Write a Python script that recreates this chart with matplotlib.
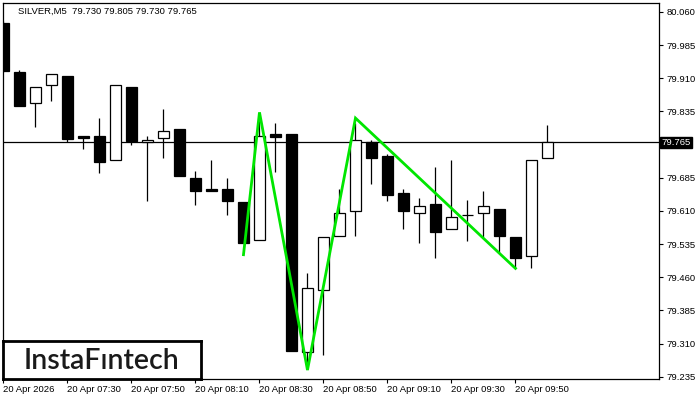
import matplotlib
matplotlib.use("Agg")
import matplotlib.pyplot as plt
from matplotlib.patches import Rectangle

# ---- data ----
times = ["07:10", "07:15", "07:20", "07:25", "07:30", "07:35", "07:40", "07:45", "07:50", "07:55",
         "08:00", "08:05", "08:10", "08:15", "08:20", "08:25", "08:30", "08:35", "08:40", "08:45",
         "08:50", "08:55", "09:00", "09:05", "09:10", "09:15", "09:20", "09:25", "09:30", "09:35",
         "09:40", "09:45", "09:50", "09:55", "10:00"]
opens = [80.036, 79.925, 79.854, 79.895, 79.916, 79.780, 79.780, 79.725, 79.891, 79.766,
         79.775, 79.796, 79.685, 79.660, 79.660, 79.631, 79.544, 79.784, 79.784, 79.290,
         79.430, 79.554, 79.609, 79.766, 79.735, 79.651, 79.605, 79.626, 79.569, 79.600,
         79.605, 79.615, 79.551, 79.509, 79.730]
highs = [80.040, 79.929, 79.890, 79.920, 79.916, 79.780, 79.821, 79.895, 79.891, 79.780,
         79.841, 79.796, 79.701, 79.726, 79.685, 79.631, 79.814, 79.809, 79.784, 79.470,
         79.551, 79.660, 79.809, 79.771, 79.739, 79.660, 79.640, 79.710, 79.726, 79.635,
         79.655, 79.615, 79.551, 79.725, 79.805]
lows = [79.925, 79.848, 79.799, 79.858, 79.766, 79.751, 79.695, 79.725, 79.758, 79.633,
        79.729, 79.688, 79.624, 79.654, 79.600, 79.538, 79.544, 79.699, 79.294, 79.255,
        79.284, 79.554, 79.554, 79.670, 79.633, 79.568, 79.538, 79.504, 79.569, 79.543,
        79.552, 79.515, 79.480, 79.480, 79.730]
closes = [79.927, 79.848, 79.890, 79.920, 79.773, 79.774, 79.720, 79.895, 79.769, 79.770,
          79.791, 79.688, 79.654, 79.654, 79.633, 79.538, 79.779, 79.778, 79.294, 79.435,
          79.551, 79.605, 79.770, 79.729, 79.645, 79.609, 79.621, 79.563, 79.597, 79.600,
          79.621, 79.554, 79.504, 79.725, 79.765]

# pattern line (bar index, price)
pattern_idx = [15, 16, 19, 22, 32]
pattern_price = [79.511, 79.833, 79.250, 79.820, 79.480]

y_ticks = [79.235, 79.310, 79.385, 79.460, 79.535, 79.610, 79.685, 79.760, 79.835, 79.910, 79.985, 80.060]
x_tick_idx = [0, 4, 8, 12, 16, 20, 24, 28, 32]
x_tick_labels = ["20 Apr 2026", "20 Apr 07:30", "20 Apr 07:50", "20 Apr 08:10", "20 Apr 08:30",
                 "20 Apr 08:50", "20 Apr 09:10", "20 Apr 09:30", "20 Apr 09:50"]
title_text = "SILVER,M5  79.730 79.805 79.730 79.765"
last_price = 79.765

FONT = "Liberation Sans"

fig = plt.figure(figsize=(7, 4), dpi=100)
fig.patch.set_facecolor("white")
ax = fig.add_axes([2.7 / 700, 21 / 400, (659.3 - 2.7) / 700, (379 - 2.7) / 400])
ax.set_facecolor("white")

ax.set_xlim(-0.05, 40.99)
ax.set_ylim(79.2298, 80.081)

# current price line
ax.axhline(last_price, color="black", lw=0.9, zorder=1)

# candles
bw = 0.66
for i in range(len(opens)):
    o, h, l, c = opens[i], highs[i], lows[i], closes[i]
    ax.vlines(i, l, h, color="black", lw=0.9, zorder=2)
    lo, hi = min(o, c), max(o, c)
    fill = "white" if c >= o else "black"
    ax.add_patch(Rectangle((i - bw / 2, lo), bw, hi - lo, facecolor=fill,
                           edgecolor="black", lw=0.9, zorder=3))

# pattern
ax.plot(pattern_idx, pattern_price, color="#00e600", lw=2.0, zorder=5,
        solid_joinstyle="miter")

# axes styling
for s in ax.spines.values():
    s.set_color("black")
    s.set_linewidth(0.9)
ax.yaxis.tick_right()
ax.set_yticks(y_ticks)
# the 79.760 label sits under the current-price box, so it is hidden
ax.set_yticklabels(["" if abs(v - last_price) < 0.02 else f"{v:.3f}" for v in y_ticks],
                   fontsize=6.8, family=FONT)
ax.tick_params(axis="y", direction="out", length=3, width=0.8, pad=2, colors="black")
ax.set_xticks(x_tick_idx)
ax.set_xticklabels(x_tick_labels, fontsize=6.8, family=FONT, ha="left")
ax.tick_params(axis="x", direction="out", length=3, width=0.8, pad=1.5, colors="black")

# title
ax.text(15 / 656.6, 1 - 9 / 376.3, title_text, transform=ax.transAxes, fontsize=6.8,
        family=FONT, va="center", ha="left", color="black")

# price label box
fig.text(661 / 700, 1 - 142.5 / 400, f"{last_price:.3f}", fontsize=6.8, family=FONT,
         color="white", va="center", ha="left",
         bbox=dict(boxstyle="square,pad=0.15", facecolor="black", edgecolor="black"))

# logo
logo_ax = fig.add_axes([3 / 700, (400 - 378.5) / 400, (201 - 3) / 700, (378.5 - 340.5) / 400])
logo_ax.set_xlim(0, 1)
logo_ax.set_ylim(0, 1)
logo_ax.set_xticks([])
logo_ax.set_yticks([])
logo_ax.set_facecolor("white")
for s in logo_ax.spines.values():
    s.set_color("black")
    s.set_linewidth(2)
logo_ax.text(0.5, 0.47, "InstaF\u0131ntech", fontsize=20.5, family="Lato", fontweight="semibold",
             color="#1a1a1a", ha="center", va="center")

fig.savefig("out.png", dpi=100)
